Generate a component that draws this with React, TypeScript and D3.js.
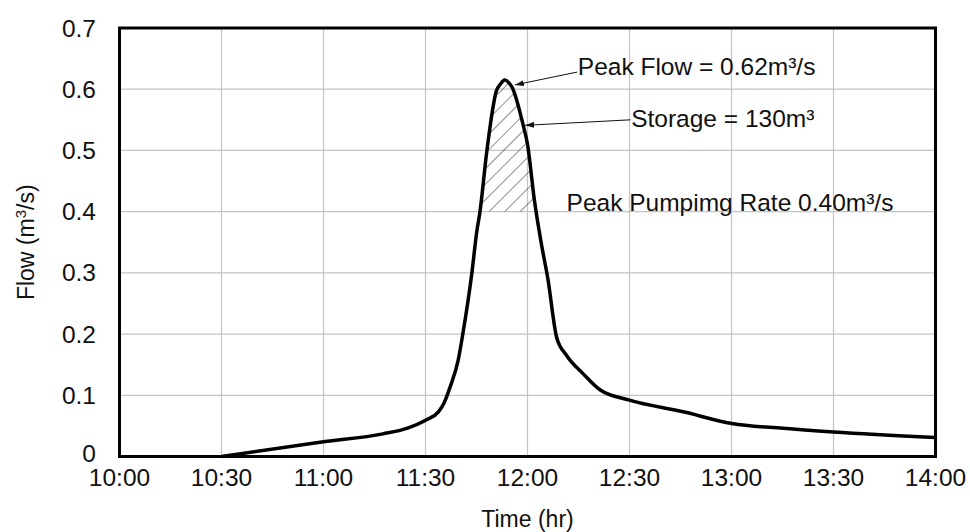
import * as d3 from "d3";

// time in minutes after 10:00, flow in m3/s
const minutes = [
  30, 60, 77.5, 84.5, 90.3, 93.8, 95.5, 97.2, 99.6, 101, 103.6, 105.1, 106, 108,
  110.9, 112, 113.3, 114.6, 115.4, 118.7, 120, 122, 124, 126, 128.6, 131.5,
  136.4, 141.3, 150, 165.8, 180.1, 195.2, 210, 240,
];
const flow = [
  0, 0.024, 0.037, 0.046, 0.06, 0.073, 0.088, 0.113, 0.157, 0.201, 0.298, 0.368,
  0.399, 0.497, 0.598, 0.608, 0.615, 0.61, 0.604, 0.542, 0.51, 0.42, 0.35, 0.29,
  0.194, 0.165, 0.135, 0.109, 0.092, 0.073, 0.054, 0.046, 0.04, 0.031,
];

const timeTicks = [0, 30, 60, 90, 120, 150, 180, 210, 240];
const timeLabels = ["10:00", "10:30", "11:00", "11:30", "12:00", "12:30", "13:00", "13:30", "14:00"];
const flowTicks = [0, 0.1, 0.2, 0.3, 0.4, 0.5, 0.6, 0.7];
const flowLabels = ["0", "0.1", "0.2", "0.3", "0.4", "0.5", "0.6", "0.7"];

const pumpRate = 0.4;

const W = 970;
const H = 532;
const left = 119.5;
const right = 935.5;
const top = 28;
const bottom = 456.5;
const font = "'Liberation Sans', Arial, sans-serif";

export default function App() {
  const x = d3.scaleLinear().domain([0, 240]).range([left, right]);
  const y = d3.scaleLinear().domain([0, 0.7]).range([bottom, top]);

  const pts: [number, number][] = minutes.map((m, i) => [m, flow[i]]);
  const line = d3
    .line<[number, number]>()
    .x((d) => x(d[0]))
    .y((d) => y(d[1]))
    .curve(d3.curveMonotoneX);
  const area = d3
    .area<[number, number]>()
    .x((d) => x(d[0]))
    .y0(y(pumpRate))
    .y1((d) => y(d[1]))
    .curve(d3.curveMonotoneX);

  return (
    <svg
      width={W}
      height={H}
      style={{ position: "absolute", left: 0, top: 0, background: "#fff" }}
      fontFamily={font}
    >
      <defs>
        <pattern
          id="hatch"
          patternUnits="userSpaceOnUse"
          width={11}
          height={11}
          patternTransform="rotate(45)"
        >
          <line x1={0} y1={0} x2={0} y2={11} stroke="#444" strokeWidth={1.2} />
        </pattern>
        <clipPath id="above">
          <rect x={left} y={top} width={right - left} height={y(pumpRate) - top} />
        </clipPath>
        <marker
          id="arrow"
          markerUnits="userSpaceOnUse"
          markerWidth={9}
          markerHeight={6}
          refX={9}
          refY={3}
          orient="auto"
        >
          <path d="M0,0 L9,3 L0,6 z" fill="#111" />
        </marker>
      </defs>

      {/* grid */}
      {flowTicks.map((t) => (
        <line key={"h" + t} x1={left} x2={right} y1={y(t)} y2={y(t)} stroke="#c4c4c4" strokeWidth={1.2} />
      ))}
      {timeTicks.map((t) => (
        <line key={"v" + t} x1={x(t)} x2={x(t)} y1={top} y2={bottom} stroke="#c4c4c4" strokeWidth={1.2} />
      ))}

      {/* storage above the pumping rate */}
      <path d={area(pts) ?? ""} fill="url(#hatch)" clipPath="url(#above)" />

      <path d={line(pts) ?? ""} fill="none" stroke="#000" strokeWidth={3.5} strokeLinejoin="round" />

      {/* frame */}
      <rect x={left} y={top} width={right - left} height={bottom - top} fill="none" stroke="#000" strokeWidth={3} />

      {/* tick labels */}
      {flowTicks.map((t, i) => (
        <text key={"yl" + t} x={96} y={t === 0 ? y(t) - 3 : y(t)} dy="0.35em" textAnchor="end" fontSize={24.5} fill="#111">
          {flowLabels[i]}
        </text>
      ))}
      {timeTicks.map((t, i) => (
        <text key={"xl" + t} x={x(t)} y={486} textAnchor="middle" fontSize={24.5} fill="#111">
          {timeLabels[i]}
        </text>
      ))}

      <text x={(left + right) / 2} y={527} textAnchor="middle" fontSize={23} fill="#111">
        Time (hr)
      </text>
      <text
        transform={`translate(34, ${(top + bottom) / 2}) rotate(-90)`}
        textAnchor="middle"
        fontSize={23}
        fill="#111"
      >
        Flow (m<tspan dy={-8} fontSize={15}>3</tspan>
        <tspan dy={8}>/s)</tspan>
      </text>

      {/* annotations */}
      <line x1={x(134.6)} y1={y(0.628)} x2={x(116.3)} y2={y(0.607)} stroke="#111" strokeWidth={1} markerEnd="url(#arrow)" />
      <text x={x(134.8)} y={y(0.624)} fontSize={24.5} fill="#111">
        Peak Flow = 0.62m³/s
      </text>
      <line x1={x(150.3)} y1={y(0.55)} x2={x(119.3)} y2={y(0.541)} stroke="#111" strokeWidth={1} markerEnd="url(#arrow)" />
      <text x={x(150.5)} y={y(0.539)} fontSize={24.5} fill="#111">
        Storage = 130m³
      </text>
      <text x={x(131.5)} y={y(pumpRate) - 1} fontSize={24.5} fill="#111">
        Peak Pumpimg Rate 0.40m³/s
      </text>
    </svg>
  );
}
